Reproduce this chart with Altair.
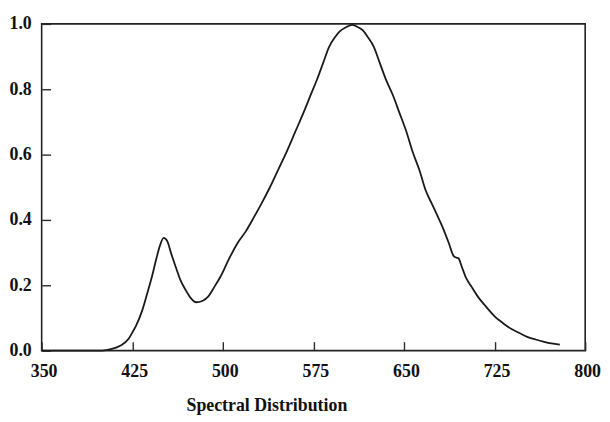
import altair as alt
import pandas as pd

wavelength = [350, 400, 408, 415, 422, 425, 428, 433, 437, 441, 445, 448, 451, 454, 457, 461, 465, 469, 473, 478, 483,
              488, 493, 498, 505, 512, 519, 526, 532, 539, 546, 553, 560, 567, 573, 578, 583, 588, 593, 597, 602,
              607, 612, 616, 620, 625, 630, 635, 641, 646, 652, 657, 663, 668, 673, 678, 682, 687, 691, 693, 695,
              698, 701, 706, 711, 718, 725, 732, 739, 746, 752, 759, 766, 772, 779]
intensity = [0.0, 0.0, 0.005, 0.015, 0.036, 0.055, 0.075, 0.12, 0.17, 0.222, 0.282, 0.322, 0.345, 0.335, 0.30, 0.256,
             0.215, 0.187, 0.163, 0.148, 0.152, 0.166, 0.195, 0.226, 0.28, 0.328, 0.365, 0.41, 0.45, 0.50, 0.555,
             0.61, 0.67, 0.73, 0.785, 0.83, 0.88, 0.93, 0.96, 0.978, 0.99, 0.997, 0.99, 0.98, 0.96, 0.93, 0.88,
             0.83, 0.78, 0.73, 0.67, 0.61, 0.55, 0.49, 0.45, 0.41, 0.377, 0.33, 0.29, 0.285, 0.283, 0.255, 0.226,
             0.195, 0.166, 0.134, 0.105, 0.084, 0.066, 0.053, 0.042, 0.034, 0.027, 0.022, 0.018]

x_ticks = [350, 425, 500, 575, 650, 725, 800]
y_ticks = [0, 0.2, 0.4, 0.6, 0.8, 1.0]

df = pd.DataFrame({"wl": wavelength, "v": intensity})

FONT = "Liberation Serif"

xscale = alt.Scale(domain=[350, 800], nice=False, zero=False)
yscale = alt.Scale(domain=[0, 1], nice=False)

chart = alt.Chart(df).mark_line(color="#1a1a1a", strokeWidth=1.8, interpolate="monotone").encode(
    x=alt.X("wl:Q", scale=xscale, title="Spectral Distribution",
            axis=alt.Axis(values=x_ticks, offset=-9, domain=False, grid=False,
                          ticks=True, tickSize=9, tickColor="#2a2a2a", tickWidth=1.4,
                          labelFont=FONT, labelFontSize=18, labelFontWeight="bold", labelColor="#111",
                          labelPadding=26, labelBaseline="alphabetic", labelFlush=False, labelOffset=2,
                          titleFont=FONT, titleFontSize=18, titleFontWeight="bold", titleColor="#111",
                          titleX=227, titleY=70, titleAlign="center", titleBaseline="alphabetic")),
    y=alt.Y("v:Q", scale=yscale, title="",
            axis=alt.Axis(values=y_ticks, offset=-9, domain=False, grid=False,
                          ticks=True, tickSize=9, tickColor="#2a2a2a", tickWidth=1.4,
                          format=".1f",
                          labelFont=FONT, labelFontSize=18, labelFontWeight="bold", labelColor="#111",
                          labelAlign="left", labelPadding=33, labelBaseline="middle", labelFlush=False)),
).properties(
    width=549, height=330,
    autosize=alt.AutoSizeParams(type="none"),
    padding={"left": 34, "top": 14, "right": 17, "bottom": 66},
).configure_view(stroke="#222222", strokeWidth=1.6)

chart.save("out.html", embed_options={"renderer": "svg", "actions": False})
